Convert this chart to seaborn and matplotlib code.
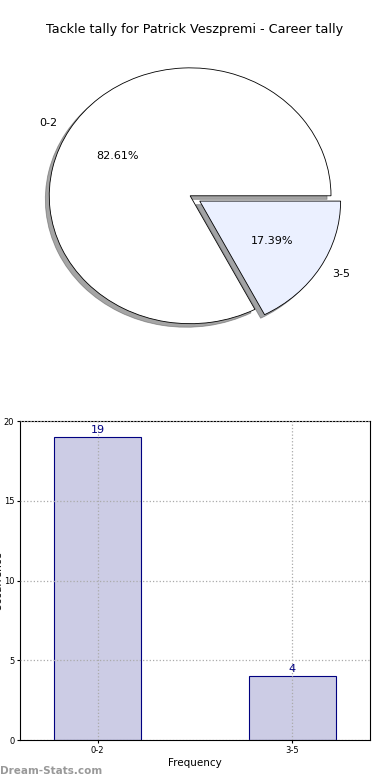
"""Tackle tally for Patrick Veszpremi: pie of shares plus bar chart of counts."""

import matplotlib

matplotlib.use("Agg")
import matplotlib.pyplot as plt
import pandas as pd
import seaborn as sns

CATEGORIES = ["0-2", "3-5"]
COUNTS = [19, 4]
PIE_COLORS = ["#FFFFFF", "#EBF0FF"]
BAR_COLOR = "#CCCCE5"
EDGE_NAVY = "#000080"
TITLE = "Tackle tally for Patrick Veszpremi - Career tally"


def main():
    sns.set_style("white")
    plt.rcParams["font.family"] = ["DejaVu Sans"]
    plt.rcParams["text.color"] = "black"
    plt.rcParams["axes.labelcolor"] = "black"
    plt.rcParams["xtick.color"] = "black"
    plt.rcParams["ytick.color"] = "black"

    fig = plt.figure(figsize=(3.9, 7.8), dpi=100)

    # Pie (aspect left free so it stretches like the original)
    ax_pie = fig.add_axes([0.036, 0.544, 0.903, 0.41])
    ax_pie.pie(
        COUNTS,
        labels=CATEGORIES,
        colors=PIE_COLORS,
        explode=[0, 0.08],
        autopct="%.2f%%",
        startangle=0,
        shadow=True,
        wedgeprops={"edgecolor": "black", "linewidth": 0.6},
        textprops={"fontsize": 8, "color": "black"},
    )
    ax_pie.set_aspect("auto")
    ax_pie.set_xlim(-1.25, 1.25)
    ax_pie.set_ylim(-1.25, 1.25)
    fig.text(0.5, 0.962, TITLE, ha="center", va="center", fontsize=9.2)

    # Bars
    df = pd.DataFrame({"Tackles": CATEGORIES, "Count": COUNTS})
    ax_bar = fig.add_axes([0.051, 0.051, 0.898, 0.409])
    sns.barplot(
        data=df,
        x="Tackles",
        y="Count",
        color=BAR_COLOR,
        saturation=1,
        width=0.45,
        edgecolor=EDGE_NAVY,
        linewidth=0.8,
        ax=ax_bar,
    )
    for i, v in enumerate(COUNTS):
        ax_bar.text(i, v + 0.15, str(v), ha="center", va="bottom",
                    fontsize=8, color=EDGE_NAVY)
    ax_bar.set_xlim(-0.4, 1.4)
    ax_bar.set_ylim(0, 20)
    ax_bar.set_yticks([0, 5, 10, 15, 20])
    ax_bar.tick_params(labelsize=6, length=2, pad=2, direction="out",
                       left=True, bottom=True)
    ax_bar.grid(True, linestyle=":", color="#AAAAAA", linewidth=0.9)
    ax_bar.set_axisbelow(False)
    for spine in ax_bar.spines.values():
        spine.set_color("black")
        spine.set_linewidth(0.8)
    ax_bar.set_xlabel("Frequency", fontsize=7.5, labelpad=2)
    ax_bar.set_ylabel("Occurrence", fontsize=7.5)
    ax_bar.yaxis.set_label_coords(-0.046, 0.5)

    fig.text(0.0, 0.005, "Dream-Stats.com", fontsize=7.5, color="#999999",
             fontweight="bold", ha="left", va="bottom")

    fig.savefig("out.png", dpi=100)


if __name__ == "__main__":
    main()
